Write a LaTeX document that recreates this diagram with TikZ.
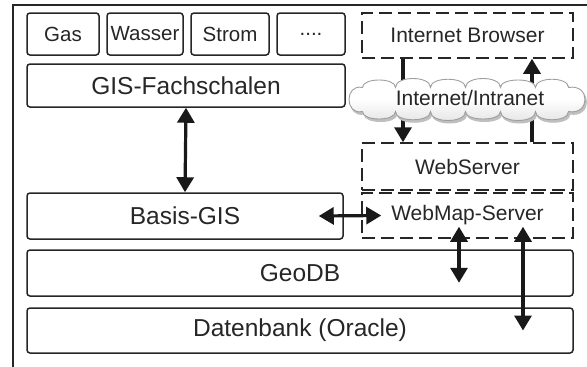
\documentclass[tikz,border=0pt]{standalone}
\usepackage{fontspec}
\setmainfont{Liberation Sans}
\usetikzlibrary{arrows.meta,calc}
\begin{document}
\begin{tikzpicture}[x=1pt,y=-1pt,
  box/.style={draw=black!85, line width=1.5pt, rounded corners=3pt, inner sep=0pt,
    font=\fontsize{20.5}{24}\selectfont, text=black!85},
  big/.style={font=\fontsize{24.5}{28}\selectfont},
  web/.style={dash pattern=on 13pt off 6pt, rounded corners=0pt,
    font=\fontsize{21}{25}\selectfont},
  both/.style={line width=3.2pt, black!90,
    {Triangle[width=17pt,length=15pt]}-{Triangle[width=17pt,length=15pt]}},
  one/.style={line width=3.2pt, black!90, -{Triangle[width=17pt,length=15pt]}},
  netcloud/.pic={
    \path[pic actions]
      (-106,-12) .. controls (-106,-22) and (-73,-22) .. (-73,-12)
                 .. controls (-73,-24) and (-38,-24) .. (-38,-12)
                 .. controls (-38,-23) and (-3,-23) .. (-3,-12)
                 .. controls (-3,-24) and (32,-24) .. (32,-12)
                 .. controls (32,-22) and (67,-22) .. (67,-12)
                 .. controls (67,-23) and (100,-23) .. (100,-12)
                 .. controls (122,-16) and (122,16) .. (100,12)
                 .. controls (100,23) and (67,23) .. (67,12)
                 .. controls (67,24) and (32,24) .. (32,12)
                 .. controls (32,22) and (-3,22) .. (-3,12)
                 .. controls (-3,24) and (-38,24) .. (-38,12)
                 .. controls (-38,23) and (-73,23) .. (-73,12)
                 .. controls (-73,22) and (-106,22) .. (-106,12)
                 .. controls (-124,16) and (-124,-16) .. (-106,-12) -- cycle;
  },
]
\useasboundingbox (0,0) rectangle (587,367);

% outer frame (top and left edges)
\draw[line width=2pt, black!85] (13,367) -- (13,5) -- (587,5);

% top row: specialist modules
\node[box, minimum width=72pt, minimum height=42pt] (gas)    at (63,34)  {Gas};
\node[box, minimum width=76pt, minimum height=42pt] (wasser) at (145,34) {Wasser};
\node[box, minimum width=78pt, minimum height=42pt] (strom)  at (230,34) {Strom};
\node[box, minimum width=68pt, minimum height=42pt] (dots)   at (311,34) {....};

% GIS stack
\node[box, big, minimum width=318pt, minimum height=43pt] (fach)  at (186,85.5) {GIS-Fachschalen};
\node[box, big, minimum width=316pt, minimum height=46pt] (basis) at (185,216)  {Basis-GIS};
\node[box, big, minimum width=546pt, minimum height=46pt] (geo)   at (300,273)  {GeoDB};
\node[box, big, minimum width=546pt, minimum height=45pt] (db)    at (300,330.5) {Datenbank (Oracle)};

% web side
\node[box, web, minimum width=211pt, minimum height=45pt] (browser) at (467.5,35.5)  {Internet Browser};
\node[box, web, minimum width=211pt, minimum height=47pt] (websrv)  at (467.5,166.5) {WebServer};
\node[box, web, minimum width=211pt, minimum height=45pt] (webmap)  at (467.5,215.5) {WebMap-Server};

% connectors
\draw[both] (fach.south) -- (basis.north);
\draw[one] ([xshift=-64.5pt]browser.south) -- ([xshift=-64.5pt]websrv.north);
\draw[one] ([xshift=64.5pt]websrv.north) -- ([xshift=64.5pt]browser.south);
\draw[both] ([xshift=-25pt]basis.east) -- ([xshift=20pt]webmap.west);

\coordinate (g1) at ([xshift=-8.5pt,yshift=12pt]webmap.south);
\coordinate (g2) at (g1 |- geo.south);
\draw[both] (g1) -- ([yshift=14pt]g2);

\coordinate (d1) at ([xshift=55.5pt,yshift=12pt]webmap.south);
\draw[both] (d1) -- (d1 |- db.center);

% network cloud with a soft shadow underneath
\pic[fill=gray!50, draw=gray!50, line width=1pt] at (470,102) {netcloud};
\pic[draw=gray!75, line width=0.9pt, top color=white, bottom color=gray!22,
  middle color=white] at (468.5,99.5) {netcloud};
\node[font=\fontsize{21}{25}\selectfont, text=black!85] (net) at (470,98) {Internet/Intranet};
\end{tikzpicture}
\end{document}
